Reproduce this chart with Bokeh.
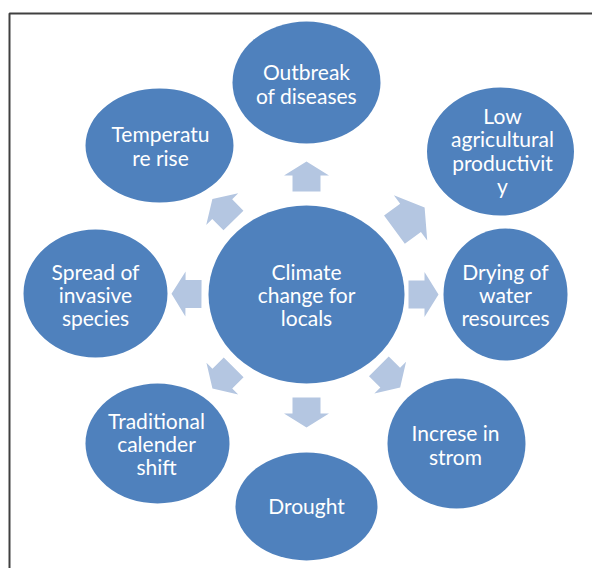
import math
from bokeh.plotting import figure
from bokeh.models import Range1d, ColumnDataSource
from bokeh.core.properties import value
from bokeh.embed import file_html
from bokeh.resources import INLINE

# ---- diagram content ----
center_label = ["Climate\nchange for\nlocals"]
center_x = [306]
center_y = [294]
center_w = [196]
center_h = [178]

node_labels = [
    "Outbreak\nof diseases",
    "Low\nagricultural\nproductivit\ny",
    "Drying of\nwater\nresources",
    "Increse in\nstrom",
    "Drought",
    "Traditional\ncalender\nshift",
    "Spread of\ninvasive\nspecies",
    "Temperatu\nre rise",
]
node_x = [306, 500, 505, 456, 306, 157, 95, 159]
node_y = [82, 151, 294, 443, 506, 443, 293, 145]
node_w = [148, 147, 124, 138, 142, 144, 144, 148]
node_h = [122, 128, 132, 130, 108, 120, 128, 114]
label_x = [306, 502, 505, 455, 306, 156, 95, 160]
label_y = [83, 150, 294, 444, 505, 443, 294, 145]

# arrows (layout)
arrow_dist = [118, 128, 117, 117, 118, 118, 120, 119]
arrow_scale = [1.0, 1.25, 1.0, 1.0, 1.0, 1.0, 1.0, 1.0]

BLUE = "#4F81BD"
ARROW = "#B4C6E1"

p = figure(width=592, height=568, x_range=Range1d(0, 592), y_range=Range1d(568, 0),
           output_backend="svg", toolbar_location=None, min_border=0)
p.axis.visible = False
p.grid.visible = False
p.outline_line_color = None
p.background_fill_color = "white"
p.border_fill_color = "white"

# frame border
p.line(x=[9, 9, 600], y=[600, 13, 13], line_color="#404040", line_width=2)

# arrows
base = [(-15, -14), (1, -14), (1, -22.5), (15, 0), (1, 22.5), (1, 14), (-15, 14)]
xs, ys = [], []
for nx, ny, d, s in zip(node_x, node_y, arrow_dist, arrow_scale):
    a = math.atan2(ny - center_y[0], nx - center_x[0])
    dx, dy = math.cos(a), math.sin(a)
    cx = center_x[0] + d * dx
    cy = center_y[0] + d * dy
    xs.append([cx + s * (u * dx - v * dy) for u, v in base])
    ys.append([cy + s * (u * dy + v * dx) for u, v in base])
p.patches(xs=xs, ys=ys, fill_color=ARROW, line_color=None)

# ellipses
p.ellipse(x=node_x, y=node_y, width=node_w, height=node_h, fill_color=BLUE, line_color=None)
p.ellipse(x=center_x, y=center_y, width=center_w, height=center_h, fill_color=BLUE, line_color=None)

# labels
src = ColumnDataSource(dict(x=label_x + center_x, y=label_y + center_y, t=node_labels + center_label))
p.text(x="x", y="y", text="t", source=src, text_align="center", text_baseline="middle",
       text_font=value("Lato"), text_font_size="21px", text_color="white", text_line_height=0.93)

open("out.html", "w").write(file_html(p, INLINE))
